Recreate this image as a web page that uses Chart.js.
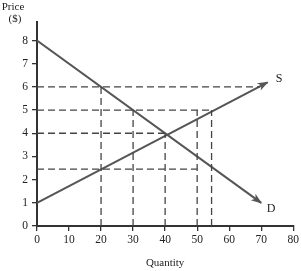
<!DOCTYPE html>
<html>
<head>
<meta charset="utf-8">
<script src="https://cdn.jsdelivr.net/npm/chart.js@4.4.1/dist/chart.umd.min.js"></script>
<style>
  html, body { margin: 0; padding: 0; background: #fff; }
  #wrap { width: 301px; height: 271px; position: relative; }
</style>
</head>
<body>
<div id="wrap"><canvas id="chart"></canvas></div>
<script>
// curve end points (quantity, price)
const demandQ = [0, 70];
const demandP = [8, 1];
const supplyQ = [0, 72];
const supplyP = [1, 6.2];

// dashed guides: horizontal [price, endQty], vertical [qty, topPrice]
const guideH = [[6, 69.5], [5, 54.5], [4, 40], [2.45, 50]];
const guideV = [[20, 6], [30, 5], [40, 4], [50, 5], [54.5, 5]];

const xTicks = [0, 10, 20, 30, 40, 50, 60, 70, 80];
const yTicks = [0, 1, 2, 3, 4, 5, 6, 7, 8];

const SERIF = '"Liberation Serif", "DejaVu Serif", serif';
const LINE = '#555';

const toPts = (qs, ps) => qs.map((q, i) => ({ x: q, y: ps[i] }));

const datasets = [];
guideH.forEach(([p, q]) => datasets.push({
    data: [{ x: 0, y: p }, { x: q, y: p }],
    borderColor: '#444', borderWidth: 1.3, borderDash: [7, 4], pointRadius: 0
}));
guideV.forEach(([q, p]) => datasets.push({
    data: [{ x: q, y: 0 }, { x: q, y: p }],
    borderColor: '#444', borderWidth: 1.3, borderDash: [7, 4], pointRadius: 0
}));
datasets.push({ label: 'D', data: toPts(demandQ, demandP), borderColor: LINE, borderWidth: 2, pointRadius: 0, arrow: true });
datasets.push({ label: 'S', data: toPts(supplyQ, supplyP), borderColor: LINE, borderWidth: 2, pointRadius: 0, arrow: true });

// arrow heads at line ends + free text labels
const annotate = {
    id: 'annotate',
    afterDatasetsDraw(chart) {
        const ctx = chart.ctx;
        const xs = chart.scales.x, ys = chart.scales.y;
        chart.data.datasets.forEach(ds => {
            if (!ds.arrow) return;
            const a = ds.data[ds.data.length - 2], b = ds.data[ds.data.length - 1];
            const x1 = xs.getPixelForValue(a.x), y1 = ys.getPixelForValue(a.y);
            const x2 = xs.getPixelForValue(b.x), y2 = ys.getPixelForValue(b.y);
            const ang = Math.atan2(y2 - y1, x2 - x1);
            const len = 10, w = 4;
            ctx.save();
            ctx.fillStyle = LINE;
            ctx.translate(x2, y2);
            ctx.rotate(ang);
            ctx.beginPath();
            ctx.moveTo(1, 0);
            ctx.lineTo(-len, -w);
            ctx.lineTo(-len + 3, 0);
            ctx.lineTo(-len, w);
            ctx.closePath();
            ctx.fill();
            ctx.restore();
        });

        ctx.save();
        ctx.fillStyle = '#222';
        ctx.font = '11px ' + SERIF;
        ctx.textAlign = 'center';
        ctx.textBaseline = 'middle';
        ctx.fillText('Price', 13, 7);
        ctx.fillText('($)', 15, 19);
        ctx.fillText('Quantity', (xs.left + xs.right) / 2, 263);
        ctx.font = '12px ' + SERIF;
        ctx.fillText('S', 279, 79);
        ctx.fillText('D', 271, 209);
        ctx.restore();
    }
};

new Chart(document.getElementById('chart'), {
    type: 'line',
    data: { datasets },
    options: {
        responsive: true,
        maintainAspectRatio: false,
        animation: false,
        layout: { padding: { top: 22, right: 6, left: 0, bottom: 0 } },
        plugins: { legend: { display: false }, tooltip: { enabled: false } },
        scales: {
            x: {
                type: 'linear', min: 0, max: 80,
                afterBuildTicks: s => { s.ticks = xTicks.map(v => ({ value: v })); },
                afterFit: s => { s.height = 45; },
                grid: { display: true, drawOnChartArea: false, drawTicks: true, tickLength: 5, color: '#333', lineWidth: 1.3 },
                border: { display: true, color: '#333', width: 2 },
                ticks: { color: '#222', font: { family: SERIF, size: 11.5 }, padding: 2, maxRotation: 0 }
            },
            y: {
                type: 'linear', min: 0, max: 8.8,
                afterBuildTicks: s => { s.ticks = yTicks.map(v => ({ value: v })); },
                afterFit: s => { s.width = 37; },
                grid: { display: true, drawOnChartArea: false, drawTicks: true, tickLength: 5, color: '#333', lineWidth: 1.3 },
                border: { display: true, color: '#333', width: 2 },
                ticks: { color: '#222', font: { family: SERIF, size: 11.5 }, padding: 4 }
            }
        }
    },
    plugins: [annotate]
});
</script>
</body>
</html>
